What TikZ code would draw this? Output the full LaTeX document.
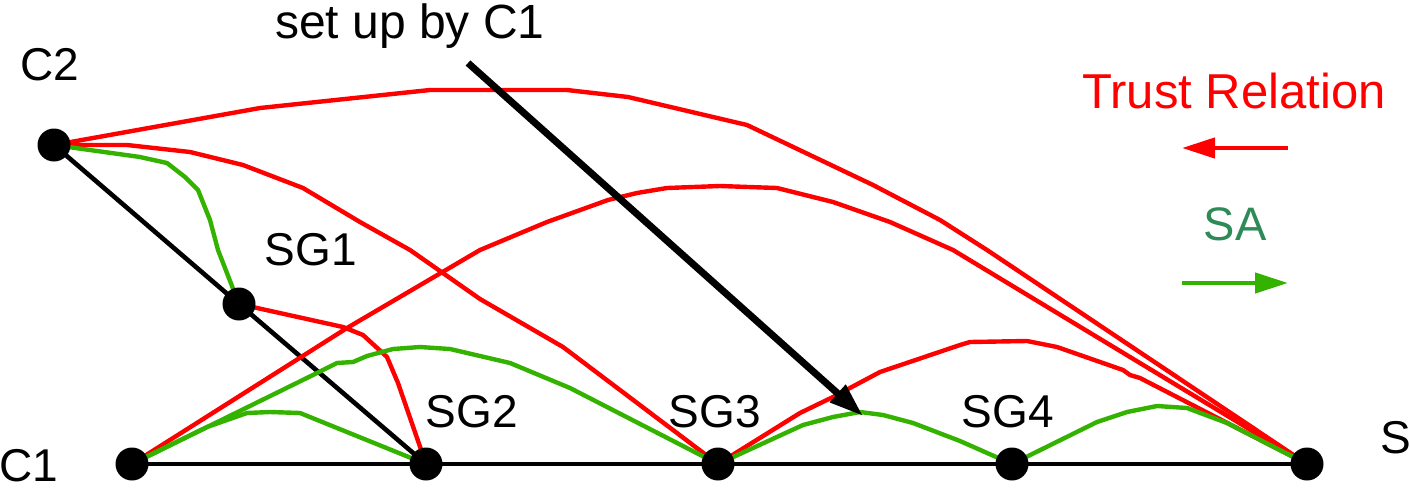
\documentclass[tikz,border=0pt]{standalone}
\usepackage{fontspec}
\setmainfont{Liberation Sans}
\usetikzlibrary{arrows.meta}
\definecolor{trustred}{RGB}{255,0,0}
\definecolor{sagreen}{RGB}{51,179,0}
\definecolor{satext}{RGB}{46,139,87}
\tikzset{
  dot/.style={circle,fill=black,inner sep=0pt,minimum size=33pt},
  lbl/.style={anchor=base,inner sep=0pt,font=\fontsize{46}{55}\selectfont},
  blackline/.style={draw=black,line width=4.6pt},
  trust/.style={draw=trustred,line width=4.4pt,line join=round},
  sa/.style={draw=sagreen,line width=4.4pt,line join=round},
}
\begin{document}
\begin{tikzpicture}[x=1pt,y=-1pt]
\useasboundingbox (0,0) rectangle (1410,488);
% node positions
\coordinate (C2) at (54,145);
\coordinate (SG1) at (239,304);
\coordinate (C1) at (132,464);
\coordinate (SG2) at (426,464);
\coordinate (SG3) at (718,464);
\coordinate (SG4) at (1012,464);
\coordinate (S) at (1307,464);
% black lines
\draw[blackline] (C1) -- (S);
\draw[blackline] (C2) -- (SG1) -- (SG2);
% red trust relations
\draw[trust] (C2) -- (260,108) -- (430,90) -- (567,90) -- (628,97) -- (747,125) -- (873,185) -- (940,220) -- (987,250) -- (S);
\draw[trust] (C2) -- (127,145) -- (190,152) -- (243,165) -- (303,188) -- (360,222) -- (410,250) -- (480,299) -- (563,347) -- (SG3);
\draw[trust] (C1) -- (347,328) -- (480,250) -- (547,222) -- (608,200) -- (637,193) -- (667,188) -- (720,186) -- (777,188) -- (833,202) -- (890,222) -- (953,250) -- (S);
\draw[trust] (SG1) -- (343,327) -- (363,335) -- (387,357) -- (398,383) -- (SG2);
\draw[trust] (SG3) -- (800,413) -- (833,397) -- (880,372) -- (960,345) -- (970,342) -- (1027,341) -- (1057,347) -- (1123,370) -- (1130,375) -- (1140,378) -- (S);
% green SAs
\draw[sa] (C2) -- (140,157) -- (167,163) -- (185,177) -- (198,190) -- (210,220) -- (218,250) -- (SG1);
\draw[sa] (C1) -- (207,427) -- (247,413) -- (270,412) -- (300,413) -- (SG2);
\draw[sa] (C1) -- (317,373) -- (337,363) -- (353,362) -- (367,356) -- (393,349) -- (420,347) -- (450,349) -- (480,356) -- (510,363) -- (570,388) -- (SG3);
\draw[sa] (SG3) -- (803,425) -- (833,417) -- (860,412) -- (883,415) -- (913,423) -- (960,441) -- (SG4);
\draw[sa] (SG4) -- (1097,422) -- (1127,412) -- (1157,406) -- (1187,408) -- (1227,423) -- (S);
% dots
\node[dot] (dC2) at (C2) {};
\node[dot] (dSG1) at (SG1) {};
\node[dot] (dC1) at (C1) {};
\node[dot] (dSG2) at (SG2) {};
\node[dot] (dSG3) at (SG3) {};
\node[dot] (dSG4) at (SG4) {};
\node[dot] (dS) at (S) {};
% labels
\node[lbl] (tC2) at (50,80) {C2};
\node[lbl] (tSG1) at (311,265) {SG1};
\node[lbl] (tC1) at (29,481) {C1};
\node[lbl] (tSG2) at (472,427) {SG2};
\node[lbl] (tSG3) at (715,427) {SG3};
\node[lbl] (tSG4) at (1008,427) {SG4};
\node[lbl] (tS) at (1396,453) {S};
\node[lbl,font=\fontsize{48}{58}\selectfont] (tsetup) at (410,38) {set up by C1};
% big arrow
\coordinate (arrS) at (468,63);
\coordinate (arrE) at (863,416);
\draw[line width=7pt,-{Triangle[length=34pt,width=22pt]}] (arrS) -- (arrE);
% legend
\node[lbl,text=trustred,font=\fontsize{49}{58}\selectfont] (tTrust) at (1234,108) {Trust Relation};
\coordinate (lr1) at (1288,148);
\coordinate (lr2) at (1182,148);
\draw[draw=trustred,line width=4.4pt,-{Triangle[length=33pt,width=20pt]}] (lr1) -- (lr2);
\node[lbl,text=satext,font=\fontsize{47}{56}\selectfont] (tSA) at (1235,240) {SA};
\coordinate (lg1) at (1182,283);
\coordinate (lg2) at (1288,283);
\draw[draw=sagreen,line width=4.4pt,-{Triangle[length=33pt,width=20pt]}] (lg1) -- (lg2);
\end{tikzpicture}
\end{document}
